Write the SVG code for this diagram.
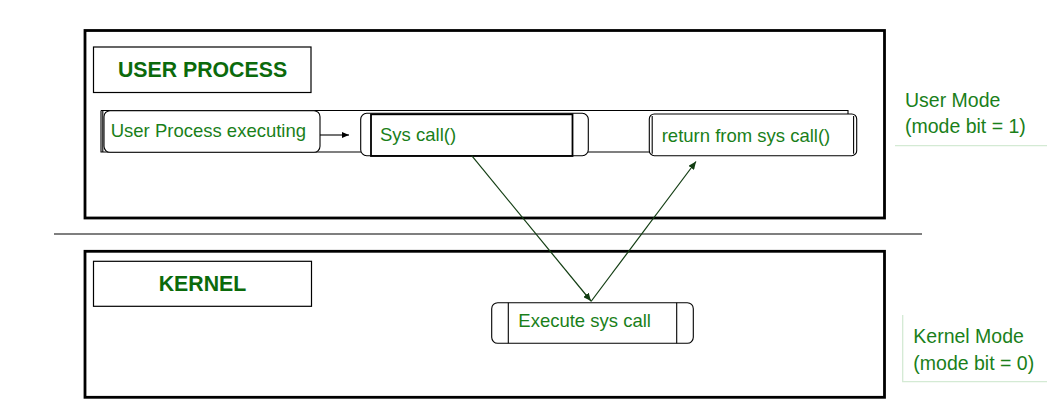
<svg xmlns="http://www.w3.org/2000/svg" width="1047" height="414" viewBox="0 0 1047 414">
<style>
.frame{fill:none;stroke:#000;stroke-width:2.8}
.lbl{fill:#fff;stroke:#000;stroke-width:1.2}
.box{fill:#fff;stroke:#000;stroke-width:1.1}
.thin{fill:none;stroke:#000;stroke-width:1.1}
.inner{fill:none;stroke:#000;stroke-width:1.8}
.t{font-family:"Liberation Sans",Arial,sans-serif;font-size:18.5px;fill:#1a7f1a}
.h{font-family:"Liberation Sans",Arial,sans-serif;font-size:21.3px;font-weight:bold;fill:#0b6a0b;text-anchor:middle}
.side{font-family:"Liberation Sans",Arial,sans-serif;font-size:19.5px;fill:#1a7f1a}
.conn{fill:none;stroke:#123d12;stroke-width:1.2}
.mark{fill:none;stroke:#d4ead4;stroke-width:1.3}
</style>
<defs>
<marker id="ah" markerWidth="8" markerHeight="6" refX="7" refY="3" orient="auto" markerUnits="userSpaceOnUse">
<path d="M0,0 L7,3 L0,6 z" fill="#000"/>
</marker>
<marker id="ahg" markerWidth="9" markerHeight="7" refX="8" refY="3.5" orient="auto" markerUnits="userSpaceOnUse">
<path d="M0,0 L8,3.5 L0,7 z" fill="#123d12"/>
</marker>
</defs>
<rect width="1047" height="414" fill="#fff"/>

<g id="user-frame">
<rect class="frame" x="85" y="30.5" width="799.5" height="187.5"/>
</g>
<g id="divider">
<line x1="54" y1="234" x2="922" y2="234" stroke="#000" stroke-width="1.2"/>
</g>
<g id="kernel-frame">
<rect class="frame" x="85" y="251.3" width="799.5" height="146"/>
</g>

<g id="user-process-label">
<rect class="lbl" x="93.5" y="47" width="217.5" height="45.5"/>
<text class="h" x="202.5" y="77">USER PROCESS</text>
</g>
<g id="kernel-label">
<rect class="lbl" x="93.5" y="261.3" width="218" height="45"/>
<text class="h" x="202.5" y="290.5">KERNEL</text>
</g>

<g id="process-bar">
<path class="thin" d="M101,110.5 H848 V114 M101,110.5 V152 H362 M588,152 H650 M102.8,110.5 V152"/>
</g>

<g id="user-process-executing">
<rect class="box" x="104" y="110.7" width="216" height="41.6" rx="6"/>
<text class="t" x="110.7" y="136.7">User Process executing</text>
</g>

<g id="sys-call">
<rect class="box" x="360.7" y="113.3" width="227.6" height="42.4" rx="6"/>
<rect class="inner" x="371" y="114.3" width="201.5" height="41.7"/>
<text class="t" x="380" y="141">Sys call()</text>
</g>

<g id="return-from-sys-call">
<rect class="box" x="649.3" y="114" width="207.4" height="41.7" rx="5"/>
<line class="thin" x1="652.2" y1="116" x2="652.2" y2="153.7"/>
<line class="thin" x1="853.6" y1="116" x2="853.6" y2="153.7"/>
<text class="t" x="661.7" y="141.7">return from sys call()</text>
</g>

<g id="execute-sys-call">
<rect class="box" x="491.7" y="302.7" width="201.6" height="40.6" rx="6"/>
<line class="thin" x1="508.3" y1="302.7" x2="508.3" y2="343.3"/>
<line class="thin" x1="676.7" y1="302.7" x2="676.7" y2="343.3"/>
<text class="t" x="518.3" y="326.7">Execute sys call</text>
</g>

<g id="connectors">
<line x1="320" y1="135" x2="349" y2="135" stroke="#000" stroke-width="1.1" marker-end="url(#ah)"/>
<line class="conn" x1="471.7" y1="155.7" x2="591" y2="301" marker-end="url(#ahg)"/>
<line class="conn" x1="591" y1="301.5" x2="696" y2="161.5" marker-end="url(#ahg)"/>
</g>

<g id="user-mode">
<text class="side" x="905" y="106.7">User Mode</text>
<text class="side" x="905" y="133.3">(mode bit = 1)</text>
<line class="mark" x1="895" y1="145.7" x2="1047" y2="145.7"/>
</g>
<g id="kernel-mode">
<text class="side" x="913.3" y="343.3">Kernel Mode</text>
<text class="side" x="913.3" y="370">(mode bit = 0)</text>
<path class="mark" d="M902.7,315 V381.7 H1047"/>
</g>
</svg>
